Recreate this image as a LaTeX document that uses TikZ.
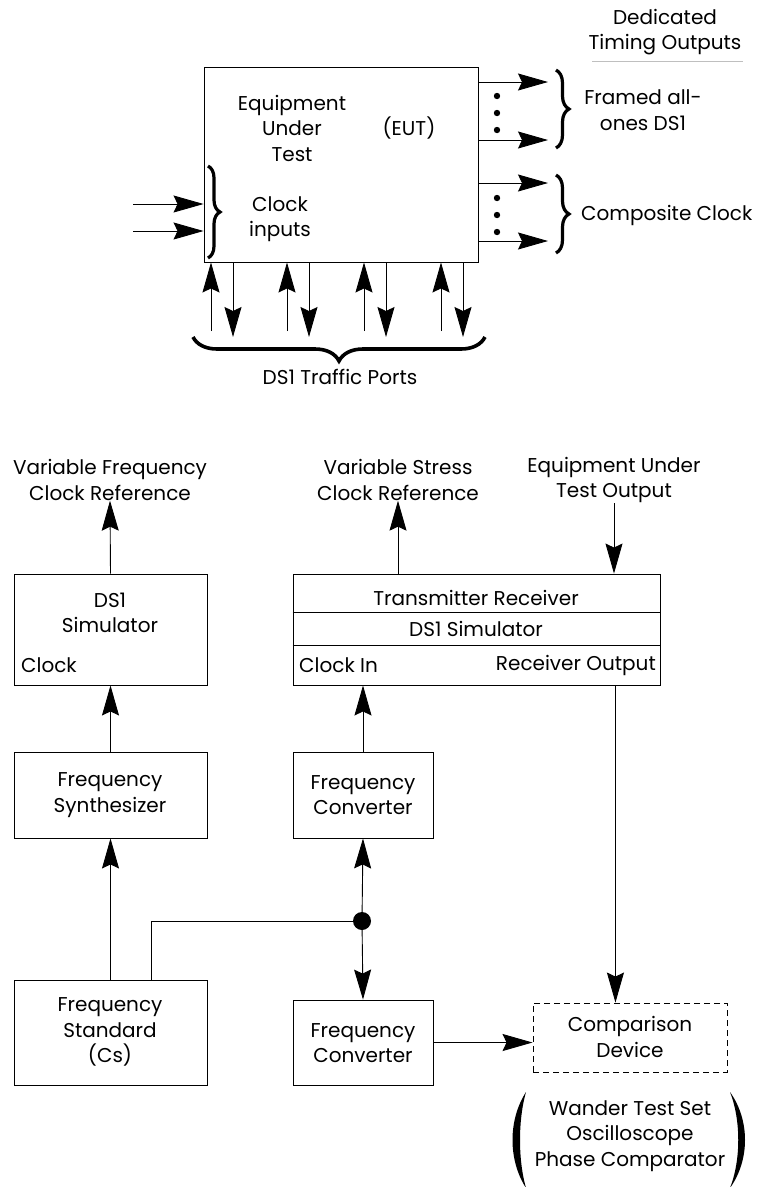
\documentclass[tikz,border=0pt]{standalone}
\usepackage{fontspec}
\setmainfont{Poppins}
\usepackage{tikz}
\usetikzlibrary{arrows.meta,calc,positioning,decorations.pathreplacing}

\tikzset{
  box/.style={draw,line width=0.9pt,inner sep=0pt},
  lbl/.style={align=center,font=\fontsize{20}{25.5}\selectfont,inner sep=0pt},
  arr/.style={-{Stealth[length=30pt,width=17pt,inset=4pt]},line width=0.9pt},
  brc/.style={decorate,decoration={brace,amplitude=#1},line width=3.2pt},
}

\begin{document}
\begin{tikzpicture}[x=1pt,y=-1pt]
\useasboundingbox (0,0) rectangle (764,1187);
\node[box,minimum width=274pt,minimum height=195pt] (eut) at (341,164.5) {};
\node[lbl] (eutname) at (292,128) {Equipment\\Under\\Test};
\node[lbl] (eutabbr) at (409,128) {(EUT)};
\node[lbl] (clkin) at (280,219) {Clock\\inputs};
\node[lbl] (dto) at (665,32) {Dedicated\\Timing Outputs};
\draw[black!25,line width=0.8pt] (592,61) -- (743,61);
\node[lbl] (framed) at (643,110) {Framed all-\\ones DS1};
\node[lbl,anchor=west] (composite) at (581,215) {Composite Clock};
\node[lbl] (ports) at (340,377) {DS1 Traffic Ports};
\coordinate (fo1) at (548,82);
\coordinate (fo2) at (548,140);
\coordinate (co1) at (548,183);
\coordinate (co2) at (548,241);
\foreach \p in {fo1,fo2,co1,co2}
  \draw[arr] (eut.east |- \p) -- (\p);
\foreach \y in {96,113,130,198,215,232}
  \fill (497,\y) circle (3.2pt);
\draw[brc=13pt] (556,70) -- (556,148);
\draw[brc=13pt] (556,175) -- (556,253);
\coordinate (ci1) at (133,204);
\coordinate (ci2) at (133,231);
\draw[arr] (ci1) -- (ci1 -| eut.west);
\draw[arr] (ci2) -- (ci2 -| eut.west);
\draw[brc=12pt] (208,166) -- (208,258);
\foreach \u/\d in {211/233,287/309,364/386,441/463}{
  \coordinate (pu\u) at (\u,331);
  \coordinate (pd\d) at (\d,337);
  \draw[arr] (pu\u) -- (pu\u |- eut.south);
  \draw[arr] (pd\d |- eut.south) -- (pd\d);
}
\draw[brc=24pt,line width=3.6pt] (485,337) -- (193,337);

\node[lbl] (vfr) at (110,480) {Variable Frequency\\Clock Reference};
\node[lbl] (vsr) at (398,480) {Variable Stress\\Clock Reference};
\node[lbl] (eutout) at (614,480) {Equipment Under\\Test Output};
\node[box,minimum width=193pt,minimum height=111pt] (ds1sim) at (110.5,629.5) {};
\node[lbl] (ds1simtxt) at (110,613) {DS1\\Simulator};
\node[lbl,anchor=west] (clk) at (21,665) {Clock};
\node[box,minimum width=367pt,minimum height=111pt] (trx) at (476.5,629.5) {};
\draw[line width=0.9pt] ($(trx.north west)+(0,39)$) -- ($(trx.north east)+(0,39)$);
\draw[line width=0.9pt] ($(trx.north west)+(0,72)$) -- ($(trx.north east)+(0,72)$);
\node[lbl] (trxtxt) at (476,598) {Transmitter Receiver};
\node[lbl] (trxsim) at (476,629) {DS1 Simulator};
\node[lbl,anchor=west] (clkinb) at (299,665) {Clock In};
\node[lbl,anchor=east] (rxout) at (656,665) {Receiver Output};
\node[box,minimum width=193pt,minimum height=86pt] (fsyn) at (110.5,795) {};
\node[lbl] (fsyntxt) at (110,795) {Frequency\\Synthesizer};
\node[box,minimum width=140pt,minimum height=86pt] (fconv1) at (363,795) {};
\node[lbl] (fconv1txt) at (363,795) {Frequency\\Converter};
\node[box,minimum width=193pt,minimum height=105pt] (fstd) at (110.5,1032.5) {};
\node[lbl] (fstdtxt) at (110,1032) {Frequency\\Standard\\(Cs)};
\node[box,minimum width=140pt,minimum height=85pt] (fconv2) at (363,1042.5) {};
\node[lbl] (fconv2txt) at (363,1043) {Frequency\\Converter};
\node[box,dashed,dash pattern=on 6pt off 4pt,minimum width=194pt,minimum height=69pt] (cmp) at (630,1037.5) {};
\node[lbl] (cmptxt) at (630,1037) {Comparison\\Device};
\node[lbl] (tools) at (630,1136) {Wander Test Set\\Oscilloscope\\Phase Comparator};
\node[circle,fill,inner sep=0pt,minimum size=18pt] (jn) at (362,921) {};

\draw[arr] (ds1sim.north) -- (vfr.south);
\draw[arr] (trx.north -| vsr.south) -- (vsr.south);
\draw[arr] (eutout.south) -- (eutout.south |- trx.north);
\draw[arr] (fsyn.north) -- (ds1sim.south);
\draw[arr] (fstd.north) -- (fsyn.south);
\draw[arr] (fconv1.north) -- (fconv1.north |- trx.south);
\coordinate (tap) at ($(fstd.north west)+(138,0)$);
\draw[line width=0.9pt] (tap) |- (jn);
\draw[arr] (jn) -- (fconv1.south);
\draw[arr] (jn) -- (fconv2.north);
\coordinate (rxo) at ($(trx.south east)+(-45,0)$);
\draw[arr] (rxo) -- (rxo |- cmp.north);
\draw[arr] (fconv2.east) -- (fconv2.east -| cmp.west);
\fill (526,1092) .. controls (508,1120) and (508,1160) .. (526,1188)
  .. controls (518,1160) and (518,1120) .. (526,1092);
\fill (730,1092) .. controls (750,1120) and (750,1160) .. (730,1188)
  .. controls (741,1160) and (741,1120) .. (730,1092);
\end{tikzpicture}
\end{document}
